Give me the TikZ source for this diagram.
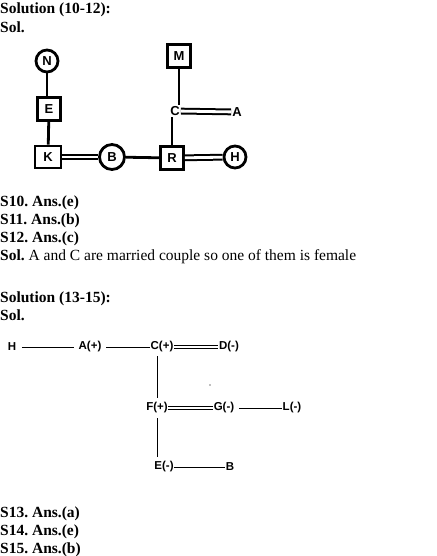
\documentclass[tikz,border=0pt]{standalone}
\usepackage{fontspec}
\setmainfont{Liberation Serif}
\newfontfamily\labelfont{Liberation Sans}
\frenchspacing
\begin{document}
\begin{tikzpicture}[x=1pt, y=-1pt,
  txt/.style={anchor=base west, inner sep=0pt, font=\fontsize{15.5}{18}\selectfont},
  sq/.style={draw, line width=2.8pt, minimum size=23pt, inner sep=0pt, font=\labelfont\bfseries\fontsize{13}{13}\selectfont},
  ring/.style={draw, circle, line width=2.8pt, minimum size=22pt, inner sep=0pt, font=\labelfont\bfseries\fontsize{13}{13}\selectfont},
  lbl/.style={inner sep=1pt, font=\labelfont\bfseries\fontsize{13}{13}\selectfont},
  bond/.style={line width=2.8pt},
  wed/.style={double, line width=2pt, double distance=2.8pt},
  tag/.style={inner sep=0.5pt, font=\labelfont\bfseries\fontsize{11.5}{11.5}\selectfont},
  rel/.style={line width=0.9pt},
  pair/.style={double, line width=0.9pt, double distance=2.4pt}]
\useasboundingbox (0,0) rectangle (436,556);

% Solution 10-12
\node[txt] (t1) at (0,14) {\textbf{Solution (10-12):}};
\node[txt] (t2) at (0,33) {\textbf{Sol.}};

% Family tree 1
\node[ring] (N) at (47,61) {N};
\node[sq] (M) at (179,56) {M};
\node[sq] (E) at (49,109) {E};
\node[sq, minimum height=22pt, minimum width=26pt] (K) at (48,157) {K};
\node[ring, minimum size=25pt] (B) at (112,157) {B};
\node[sq] (R) at (172,158) {R};
\node[ring] (H) at (235,157) {H};
\node[lbl] (C) at (175,111) {C};
\node[lbl] (A) at (237,112) {A};

\draw[bond] (N) -- (N |- E.north);
\draw[bond] (E) -- (K);
\draw[bond] (M) -- (M |- C.north);
\draw[bond] (R) -- (R |- C.south);
\draw[wed] (C) -- (A);
\draw[wed] (K) -- (B);
\draw[bond] (B) -- (R);
\draw[wed] (R) -- (H);

% Answers 10-12
\node[txt] (s10) at (0,206) {\textbf{S10. Ans.(e)}};
\node[txt] (s11) at (0,224) {\textbf{S11. Ans.(b)}};
\node[txt] (s12) at (0,242) {\textbf{S12. Ans.(c)}};
\node[txt] (s12b) at (0,260) {\textbf{Sol.} A and C are married couple so one of them is female};

% Solution 13-15
\node[txt] (t3) at (0,302) {\textbf{Solution (13-15):}};
\node[txt] (t4) at (0,320) {\textbf{Sol.}};

% Family tree 2
\node[tag] (pH) at (12,347) {H};
\node[tag] (pA) at (90,347) {A(+)};
\node[tag] (pC) at (162,347) {C(+)};
\node[tag] (pD) at (229,347) {D(-)};
\node[tag] (pF) at (157,408) {F(+)};
\node[tag] (pG) at (224,408) {G(-)};
\node[tag] (pL) at (292,408) {L(-)};
\node[tag] (pE) at (164,467) {E(-)};
\node[tag] (pB) at (230,467) {B};

\draw[rel, shorten <=5pt, shorten >=4pt] (pH) -- (pA);
\draw[rel, shorten <=4pt] (pA) -- (pC);
\draw[pair] (pC) -- (pD);
\draw[rel, shorten <=4pt, shorten >=3pt] (pF) -- (pF |- pC.south);
\draw[pair] (pF) -- (pG);
\draw[rel, shorten <=4pt] (pG) -- (pL);
\draw[rel, shorten <=4pt, shorten >=4pt] (pF) -- (pF |- pE.north);
\draw[rel] (pE) -- (pB);
\fill[gray] (210,385) circle (0.8);

% Answers 13-15
\node[txt] (s13) at (0,517) {\textbf{S13. Ans.(a)}};
\node[txt] (s14) at (0,535) {\textbf{S14. Ans.(e)}};
\node[txt] (s15) at (0,553) {\textbf{S15. Ans.(b)}};
\end{tikzpicture}
\end{document}
